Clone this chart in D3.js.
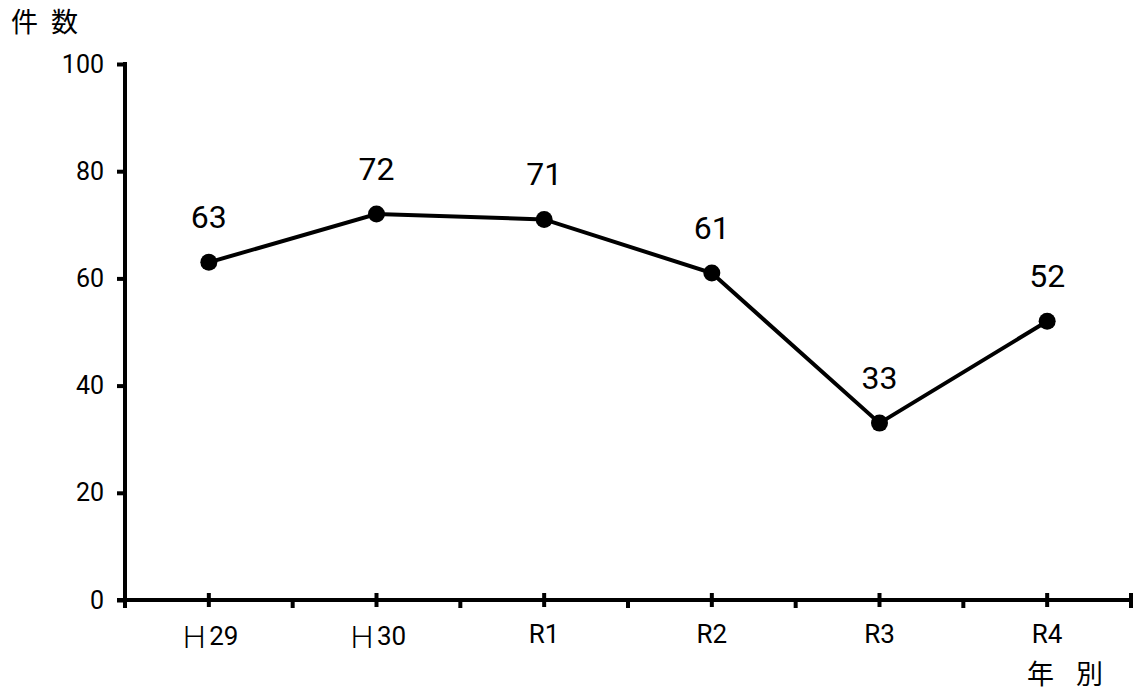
<!DOCTYPE html>
<html><head><meta charset="utf-8">
<script src="https://cdn.jsdelivr.net/npm/d3@7"></script>
<style>body{margin:0;background:#fff}svg{display:block}</style>
</head><body>
<svg id="c" width="1138" height="691"></svg>
<script>
const categories = ["Ｈ29", "Ｈ30", "R1", "R2", "R3", "R4"];
const values = [63, 72, 71, 61, 33, 52];
const yTicks = [0, 20, 40, 60, 80, 100];

(function(){
const svg = d3.select("#c");
const mL = 125, mR = 1131, mT = 64, mB = 600;
const x = d3.scaleBand().domain(categories).range([mL, mR]);
const y = d3.scaleLinear().domain([0, 100]).range([mB, mT]);
const font = "'Noto Sans CJK JP', sans-serif";
const numFont = "Roboto, 'Liberation Sans', sans-serif";

// y axis
const ya = svg.append("g").attr("transform", `translate(${mL},0)`)
  .call(d3.axisLeft(y).tickValues(yTicks).tickSize(8).tickPadding(13).tickFormat(d3.format("d")));
ya.select(".domain").attr("stroke", "#000").attr("stroke-width", 4).attr("d", `M0,${mT-2}V${mB+8}`);
ya.selectAll(".tick line").attr("stroke", "#000").attr("stroke-width", 4);
ya.selectAll(".tick text").attr("font-family", numFont).attr("font-size", 25).attr("fill", "#000");

// x axis
const xa = svg.append("g").attr("transform", `translate(0,${mB})`);
xa.append("line").attr("x1", mL - 8).attr("x2", mR + 2).attr("y1", 0).attr("y2", 0)
  .attr("stroke", "#000").attr("stroke-width", 4);
const bounds = categories.map(c => x(c)).concat([x(categories[categories.length-1]) + x.bandwidth()]);
xa.selectAll(".bt").data(bounds).join("line")
  .attr("x1", d => d).attr("x2", d => d)
  .attr("y1", (d, i) => i === bounds.length - 1 ? -7 : 0).attr("y2", 8)
  .attr("stroke", "#000").attr("stroke-width", 4);
xa.selectAll(".ct").data(categories).join("line")
  .attr("x1", d => x(d) + x.bandwidth()/2).attr("x2", d => x(d) + x.bandwidth()/2)
  .attr("y1", -7).attr("y2", 7)
  .attr("stroke", "#000").attr("stroke-width", 4);
xa.selectAll(".cl").data(categories).join("text")
  .attr("x", d => x(d) + x.bandwidth()/2)
  .attr("y", d => d.startsWith("Ｈ") ? 48 : 43)
  .attr("text-anchor", "middle")
  .attr("font-family", numFont)
  .attr("font-size", 26).attr("fill", "#000")
  .each(function(d){
    const t = d3.select(this);
    if (d.startsWith("Ｈ")) {
      t.append("tspan").attr("font-family", font).attr("font-size", 30).attr("font-weight", 200).text("Ｈ");
      t.append("tspan").attr("font-family", numFont).attr("dy", -3).text(d.slice(1));
    } else t.text(d);
  });

// line
const cx = d => x(d) + x.bandwidth()/2;
svg.append("path").datum(values)
  .attr("d", d3.line().x((d, i) => cx(categories[i])).y(d => y(d)))
  .attr("fill", "none").attr("stroke", "#000").attr("stroke-width", 4);
svg.selectAll(".pt").data(values).join("circle")
  .attr("cx", (d, i) => cx(categories[i])).attr("cy", d => y(d)).attr("r", 8.5).attr("fill", "#000");
svg.selectAll(".lbl").data(values).join("text")
  .attr("x", (d, i) => cx(categories[i])).attr("y", d => y(d) - 34)
  .attr("text-anchor", "middle").attr("font-family", numFont).attr("font-size", 32).attr("fill", "#000")
  .text(d => d);

// axis titles
const t1 = svg.append("text").attr("y", 32).attr("font-family", font).attr("font-size", 27).attr("fill", "#000");
t1.append("tspan").attr("x", 11).text("件");
t1.append("tspan").attr("x", 51).text("数");
const t2 = svg.append("text").attr("y", 684).attr("font-family", font).attr("font-size", 27).attr("fill", "#000");
t2.append("tspan").attr("x", 1027).text("年");
t2.append("tspan").attr("x", 1076).text("別");
})();
</script>
</body></html>
